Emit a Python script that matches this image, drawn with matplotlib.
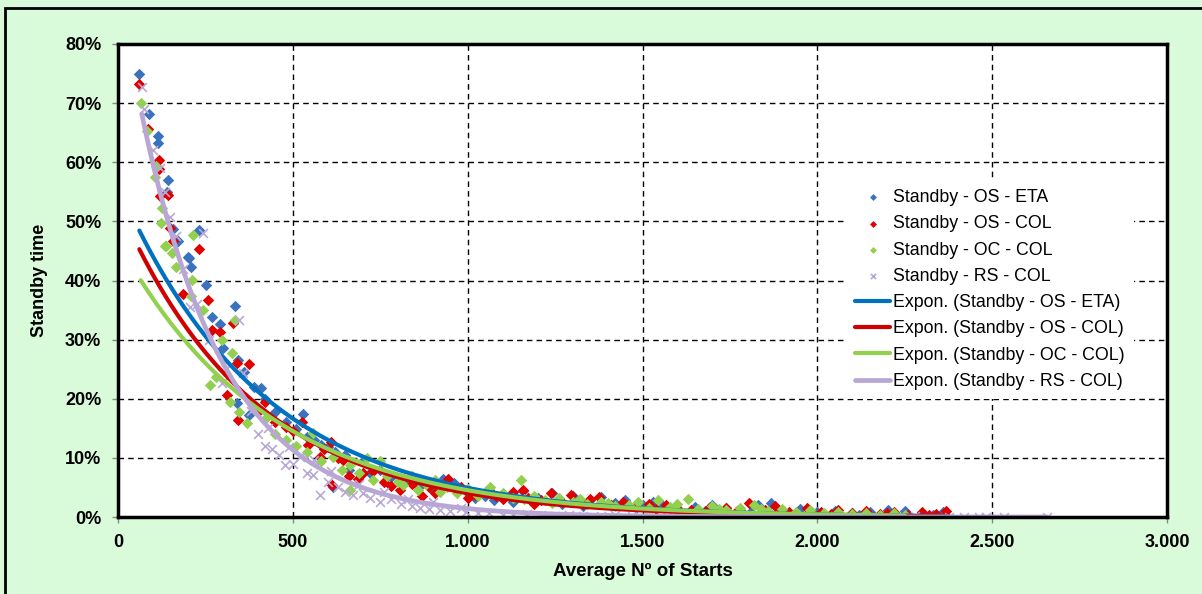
import numpy as np
import matplotlib
matplotlib.use("Agg")
import matplotlib.pyplot as plt
from matplotlib.patches import Rectangle

plt.rcParams['font.family'] = ['Liberation Sans', 'DejaVu Sans']

# --- measured points: (average number of starts, standby time in %) ---
os_eta = [(61, 74.9), (89, 68.2), (115, 64.4), (115, 63.2), (139, 55.0), (144, 57.0), (156, 48.7),
          (168, 46.6), (172, 46.6), (201, 43.9), (204, 43.8), (208, 42.2), (232, 48.5), (253, 39.2),
          (268, 33.8), (291, 32.6), (299, 28.5), (334, 35.7), (341, 19.2), (344, 26.6), (360, 24.5),
          (375, 17.3), (390, 22.0), (409, 21.8), (420, 20.0), (450, 17.8), (480, 16.0), (510, 14.8),
          (528, 17.4), (540, 13.6), (560, 13.0), (580, 12.2), (600, 11.9), (615, 5.1), (620, 11.0),
          (650, 10.5), (660, 8.0), (700, 9.5), (720, 7.5), (750, 7.9), (780, 6.8), (820, 5.9),
          (860, 5.0), (900, 4.5), (930, 6.5), (960, 5.8), (1000, 4.0), (1050, 3.6), (1100, 3.8),
          (1158, 4.4), (1200, 3.2), (1240, 4.0), (1300, 3.5), (1350, 2.8), (1380, 3.3), (1420, 2.4),
          (1450, 2.8), (1500, 2.0), (1560, 1.8), (1600, 1.4), (1650, 1.7), (1700, 2.0), (1740, 1.5),
          (1780, 1.2), (1830, 2.0), (1868, 2.3), (1900, 1.0), (1950, 1.4), (2000, 0.8), (2050, 1.0),
          (2100, 0.7), (2150, 0.9), (2201, 1.2), (2250, 1.0), (2300, 0.5), (2358, 0.9), (2365, 0.4),
          (1020, 3.2), (1075, 2.8), (1130, 2.5), (1270, 2.2), (1330, 1.9), (1480, 1.5), (1530, 2.5),
          (1680, 1.0), (1810, 0.9), (1980, 0.6), (2120, 0.4), (2330, 0.3)]

os_col = [(61, 73.3), (87, 65.6), (117, 60.3), (118, 58.9), (120, 54.3), (144, 54.5), (149, 48.8),
          (158, 46.6), (187, 37.8), (232, 45.3), (258, 36.7), (268, 31.6), (291, 31.3), (311, 20.6),
          (330, 32.8), (341, 26.0), (344, 16.4), (375, 25.9), (401, 17.8), (420, 19.5), (450, 16.0),
          (480, 15.2), (500, 14.5), (525, 16.1), (544, 12.2), (577, 10.2), (590, 11.5), (608, 12.7),
          (611, 5.4), (630, 10.0), (644, 9.6), (660, 7.0), (687, 6.5), (701, 7.4), (730, 7.8),
          (760, 6.0), (806, 4.6), (840, 5.5), (870, 3.5), (906, 4.0), (944, 6.4), (980, 5.0),
          (1020, 3.8), (1060, 4.6), (1100, 3.0), (1129, 4.3), (1158, 4.6), (1172, 3.2), (1210, 2.8),
          (1238, 4.0), (1270, 2.5), (1296, 3.7), (1330, 2.2), (1377, 3.4), (1410, 2.0), (1444, 2.6),
          (1480, 1.8), (1520, 2.2), (1567, 2.0), (1600, 1.5), (1640, 1.2), (1690, 1.6), (1739, 1.6),
          (1770, 1.0), (1806, 2.3), (1850, 1.2), (1880, 1.8), (1920, 0.9), (1970, 1.5), (2010, 0.8),
          (2060, 1.2), (2100, 0.6), (2140, 1.0), (2180, 0.5), (2220, 0.9), (2260, 0.4), (2300, 0.8),
          (2340, 0.5), (2368, 1.0), (780, 5.2), (890, 5.0), (1000, 3.2), (1080, 3.6), (1190, 2.2),
          (1350, 3.0), (1540, 1.4), (1710, 1.1), (1900, 1.2), (2040, 0.5), (2200, 0.7), (2320, 0.3)]

oc_col = [(65, 70.0), (84, 65.3), (106, 57.5), (109, 59.4), (122, 49.7), (125, 52.2), (134, 45.8),
          (136, 45.8), (155, 44.7), (166, 42.3), (210, 37.3), (213, 40.1), (215, 47.7), (242, 35.0),
          (263, 22.3), (280, 23.7), (296, 29.9), (320, 19.5), (325, 27.7), (334, 33.4), (347, 17.8),
          (368, 15.9), (390, 19.0), (420, 16.5), (450, 14.0), (480, 13.0), (510, 12.0), (540, 11.0),
          (558, 14.2), (580, 9.5), (615, 10.2), (640, 8.0), (663, 8.8), (663, 4.6), (690, 7.5),
          (711, 9.9), (749, 9.4), (770, 7.0), (800, 6.0), (815, 5.4), (840, 7.0), (858, 4.6),
          (880, 5.5), (906, 6.3), (940, 5.0), (970, 4.0), (1000, 4.8), (1030, 3.5), (1063, 5.1),
          (1100, 4.0), (1130, 3.2), (1153, 6.3), (1190, 3.5), (1220, 2.8), (1260, 3.2), (1300, 2.5),
          (1340, 2.2), (1380, 2.6), (1420, 1.8), (1460, 2.0), (1487, 2.6), (1520, 1.5), (1544, 2.9),
          (1580, 1.7), (1630, 3.0), (1660, 1.3), (1700, 1.8), (1740, 1.2), (1780, 1.5), (1820, 2.0),
          (1860, 1.0), (1900, 1.3), (1940, 0.8), (1980, 1.2), (2020, 0.6), (2060, 0.9), (2100, 0.5),
          (2140, 0.7), (2180, 0.4), (2220, 0.6), (2250, 0.3), (730, 6.2), (920, 4.2), (1050, 4.3),
          (1160, 3.0), (1240, 2.4), (1320, 3.0), (1400, 2.3), (1600, 2.2), (1720, 1.4), (1840, 1.3)]

rs_col = [(68, 72.7), (75, 69.0), (100, 62.0), (120, 59.0), (135, 55.0), (149, 50.8), (165, 47.5),
          (185, 42.0), (206, 35.6), (225, 36.0), (244, 48.0), (260, 30.0), (296, 22.6), (310, 25.0),
          (347, 33.4), (358, 24.3), (380, 18.0), (400, 14.0), (420, 12.0), (440, 11.5), (460, 10.5),
          (477, 8.8), (500, 9.0), (520, 10.2), (540, 7.5), (558, 7.1), (577, 3.7), (600, 6.0),
          (630, 5.0), (650, 4.2), (672, 3.7), (700, 4.0), (720, 3.2), (749, 2.6), (780, 3.0),
          (810, 2.2), (840, 1.8), (863, 1.5), (890, 1.4), (920, 1.2), (950, 1.0), (996, 0.9),
          (1030, 0.7), (1060, 0.6), (1100, 0.4), (1129, 0.3), (1170, 0.5), (1210, 0.3), (1250, 0.2),
          (1290, 0.4), (1330, 0.2), (1380, 0.1), (1420, 0.3), (1470, 0.1), (1520, 0.2), (1570, 0.1),
          (1620, 0.1), (1680, 0.2), (1740, 0.1), (1800, 0.1), (1860, 0.1), (1920, 0.1), (1990, 0.05),
          (2050, 0.1), (2120, 0.05), (2200, 0.05), (2280, 0.1), (2377, 0.05), (2420, 0.05),
          (2463, 0.05), (2483, 0.05), (2534, 0.05), (2658, 0.05), (430, 15.0), (490, 11.8),
          (560, 9.6), (610, 7.8), (690, 5.5), (760, 4.2), (830, 3.1), (900, 2.5), (980, 1.6)]

series_names = ['Standby - OS - ETA', 'Standby - OS - COL', 'Standby - OC - COL', 'Standby - RS - COL']

# exponential trendlines y = a * exp(b * x), fitted range in starts
trend_a = [0.562, 0.530, 0.466, 0.904]
trend_b = [-0.002433, -0.002576, -0.002331, -0.00415]
trend_range = [(61, 2365), (61, 2368), (65, 2250), (68, 2658)]

x_ticks = [0, 500, 1000, 1500, 2000, 2500, 3000]
y_ticks = [0.0, 0.1, 0.2, 0.3, 0.4, 0.5, 0.6, 0.7, 0.8]

marker_colors = ['#3a72bf', '#e00000', '#92d050', '#b9a8d6']
trend_colors = ['#0070c0', '#d00000', '#92d050', '#b8a6d4']
bg = '#dafbda'

fig = plt.figure(figsize=(12.02, 5.94), dpi=100, facecolor=bg)
# outer chart border
fig.patches.append(Rectangle((5 / 1202, -0.05), 1.1, (586 / 594) + 0.05, transform=fig.transFigure,
                             fill=False, edgecolor='black', linewidth=2.0))

ax = fig.add_axes([118 / 1202, 77 / 594, 1049 / 1202, 473 / 594])
ax.set_facecolor('white')

data = [os_eta, os_col, oc_col, rs_col]
handles = []
for i, pts in enumerate(data):
    arr = np.array(pts, dtype=float)
    if i < 3:
        h = ax.scatter(arr[:, 0], arr[:, 1] / 100, marker='D', s=34, color=marker_colors[i],
                       linewidths=0, zorder=3 + i * 0.1, label=series_names[i])
    else:
        h = ax.scatter(arr[:, 0], arr[:, 1] / 100, marker='x', s=40, color=marker_colors[i],
                       linewidths=1.2, zorder=3.3, label=series_names[i])
    handles.append(h)

for i in range(4):
    xs = np.linspace(trend_range[i][0], trend_range[i][1], 300)
    lw = 3.4 if i == 3 else 3.0
    ln, = ax.plot(xs, trend_a[i] * np.exp(trend_b[i] * xs), color=trend_colors[i], lw=lw,
                  zorder=4 + i * 0.1, solid_capstyle='round',
                  label='Expon. (' + series_names[i] + ')')
    handles.append(ln)

ax.set_xlim(0, 3000)
ax.set_ylim(0, 0.8)
ax.set_xticks(x_ticks)
ax.set_xticklabels(['{:,}'.format(v).replace(',', '.') for v in x_ticks])
ax.set_yticks(y_ticks)
ax.set_yticklabels(['{:.0f}%'.format(v * 100) for v in y_ticks])
ax.tick_params(direction='out', length=4, width=1, color='#888888', labelsize=13, pad=8)
for lab in ax.get_xticklabels() + ax.get_yticklabels():
    lab.set_fontweight('bold')

ax.grid(True, color='black', linestyle=(0, (4, 3)), linewidth=1.0, zorder=1)
ax.set_axisbelow(True)
for s in ax.spines.values():
    s.set_linewidth(2.5)
    s.set_zorder(6)

ax.set_xlabel('Average Nº of Starts', fontsize=13.5, fontweight='bold', labelpad=9)
ax.set_ylabel('Standby time', fontsize=13, fontweight='bold', labelpad=12)

leg = ax.legend(handles=handles, loc='center left', bbox_to_anchor=(0.694, 0.481),
                frameon=True, fancybox=False, facecolor='white', edgecolor='none', framealpha=1,
                fontsize=12.8, handlelength=2.0, handletextpad=0.15,
                labelspacing=0.52, borderpad=0.5, borderaxespad=0, markerscale=0.6)
leg.set_zorder(7)

fig.savefig('out.png', dpi=100, facecolor=bg)
